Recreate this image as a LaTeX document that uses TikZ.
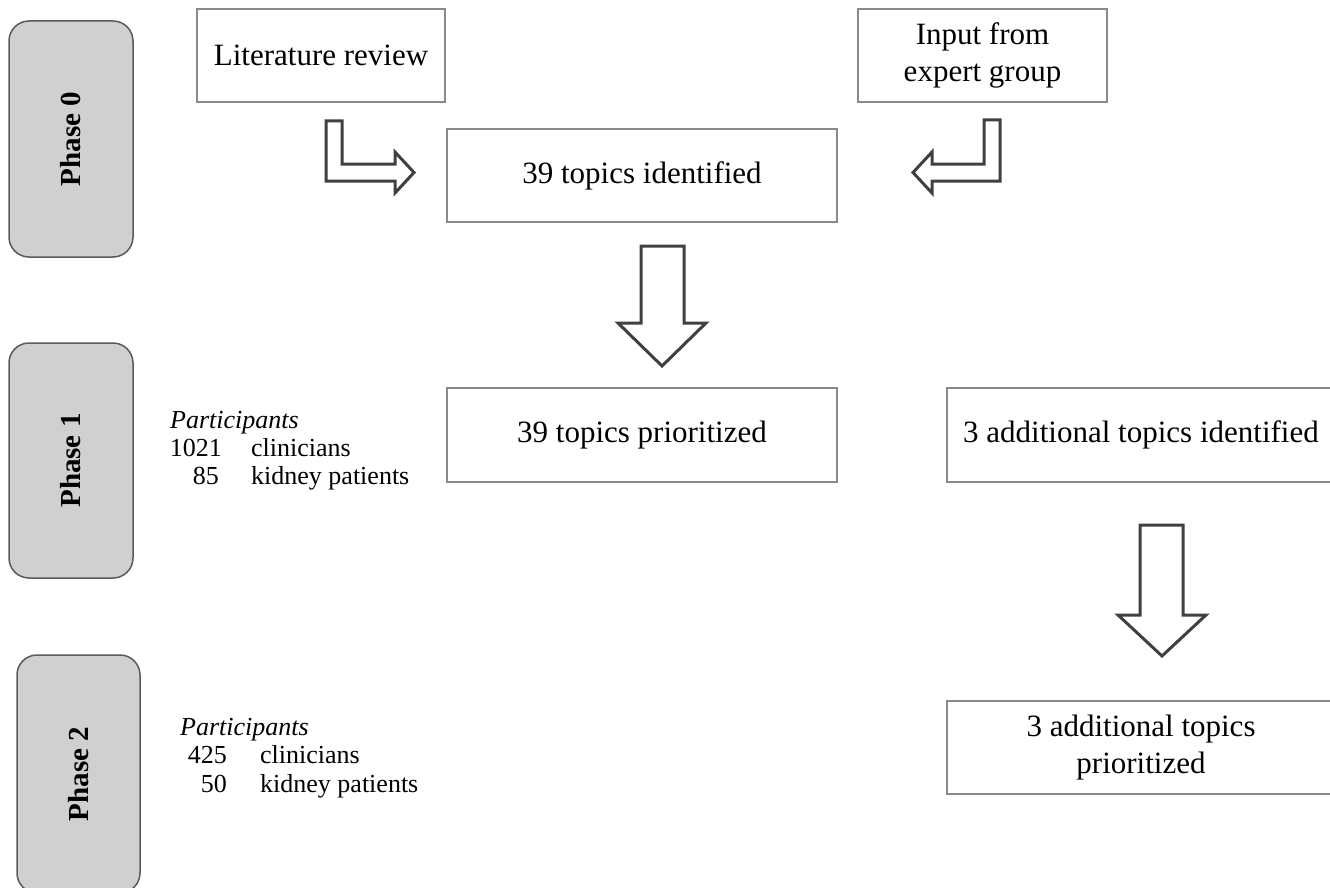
\documentclass[tikz,border=0pt]{standalone}
\usepackage{fontspec}
\setmainfont{Liberation Serif}
\begin{document}
\begin{tikzpicture}[x=1pt,y=-1pt,
  txtbox/.style={draw=boxgray,line width=1.5pt,fill=white,inner sep=0pt,
    align=center,font=\fontsize{31}{37}\selectfont},
  phasebox/.style={draw=phaseedge,line width=1.5pt,fill=phasefill,rounded corners=20pt,inner sep=0pt},
  phaselabel/.style={rotate=90,font=\fontsize{29}{34}\selectfont\bfseries},
  blockarrow/.style={draw=arrowgray,line width=3pt,fill=white,line join=miter},
  parttext/.style={inner sep=0pt,font=\fontsize{26}{30}\selectfont}]
\definecolor{boxgray}{HTML}{8A8A8A}
\definecolor{phaseedge}{HTML}{5A5A5A}
\definecolor{phasefill}{HTML}{D0D0D0}
\definecolor{arrowgray}{HTML}{404040}
\useasboundingbox (0,0) rectangle (1330,888);
\clip (0,0) rectangle (1330,888);
% phase boxes
\node[phasebox,minimum width=124pt,minimum height=236pt] (ph0) at (71,139) {};
\node[phaselabel] (ph0t) at (ph0.center) {Phase 0};
\node[phasebox,minimum width=124pt,minimum height=235pt] (ph1) at (71,460.5) {};
\node[phaselabel] (ph1t) at (ph1.center) {Phase 1};
\node[phasebox,minimum width=123pt,minimum height=238pt] (ph2) at (78.5,774) {};
\node[phaselabel] (ph2t) at (ph2.center) {Phase 2};
% text boxes
\node[txtbox,minimum width=248pt,minimum height=93pt] (lit) at (321,55.5) {Literature review};
\node[txtbox,minimum width=249pt,minimum height=93pt] (exp) at (982.5,55.5) {Input from\\expert group};
\node[txtbox,minimum width=390pt,minimum height=93pt] (ident) at (642,175.5) {39 topics identified};
\node[txtbox,minimum width=390pt,minimum height=94pt] (prio) at (642,435) {39 topics prioritized};
\node[txtbox,minimum width=388pt,minimum height=94pt] (addid) at (1141,435) {3 additional topics identified};
\node[txtbox,minimum width=388pt,minimum height=93pt] (addpr) at (1141,747.5) {3 additional topics\\prioritized};
% participants phase 1
\node[parttext,anchor=base west] (p1h) at (170,428) {\itshape Participants};
\node[parttext,anchor=base east] (p1a) at (222,456) {1021};
\node[parttext,anchor=base west] (p1b) at (251,456) {clinicians};
\node[parttext,anchor=base east] (p1c) at (219,484) {85};
\node[parttext,anchor=base west] (p1d) at (251,484) {kidney patients};
% participants phase 2
\node[parttext,anchor=base west] (p2h) at (180,735) {\itshape Participants};
\node[parttext,anchor=base east] (p2a) at (227,763) {425};
\node[parttext,anchor=base west] (p2b) at (260,763) {clinicians};
\node[parttext,anchor=base east] (p2c) at (227,792) {50};
\node[parttext,anchor=base west] (p2d) at (260,792) {kidney patients};
% block arrows
\draw[blockarrow] (326,121) -- (342,121) -- (342,164) -- (395,164) -- (395,152)
  -- (414,172.5) -- (395,193) -- (395,181) -- (326,181) -- cycle;
\draw[blockarrow] (1000,120) -- (984,120) -- (984,164) -- (932,164) -- (932,152)
  -- (913,172.5) -- (932,193) -- (932,181) -- (1000,181) -- cycle;
\draw[blockarrow] (641,246) -- (684,246) -- (684,323) -- (706,323) -- (662,366)
  -- (618,323) -- (641,323) -- cycle;
\draw[blockarrow] (1140,525) -- (1183,525) -- (1183,615) -- (1206,615) -- (1162,656)
  -- (1118,615) -- (1140,615) -- cycle;
\end{tikzpicture}
\end{document}
